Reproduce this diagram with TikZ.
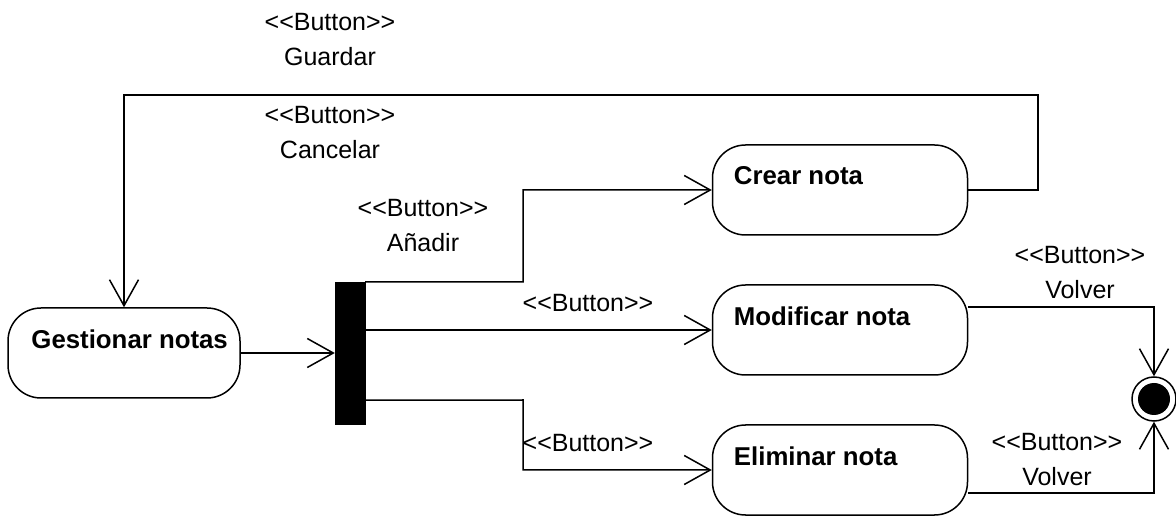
\documentclass[tikz,border=0pt]{standalone}
\usepackage{fontspec}
\setmainfont{Liberation Sans}
\usetikzlibrary{arrows.meta,calc}
\tikzset{
  state/.style={draw, rounded corners=33pt, line width=1.5pt, minimum height=90pt, inner sep=0pt},
  statetext/.style={anchor=west, inner sep=0pt, font=\fontsize{25.8}{30}\selectfont\bfseries},
  lbl/.style={align=center, inner sep=0pt, font=\fontsize{25}{35}\selectfont},
  conn/.style={line width=1.5pt},
  arr/.style={conn, -{Straight Barb[length=26pt,width=29pt,line width=1.5pt]}},
}
\begin{document}
\begin{tikzpicture}[x=1pt,y=-1pt]
\useasboundingbox (0,0) rectangle (1176,518);
% states
\node[state, minimum width=232pt] (gest) at (124,353) {};
\node[state, minimum width=255pt] (crear) at (840,190) {};
\node[state, minimum width=255pt] (modif) at (840,330) {};
\node[state, minimum width=255pt] (elim) at (840,470) {};
\node[statetext] (gestt) at ($(gest.north west)+(24,32)$) {Gestionar notas};
\node[statetext] (creart) at ($(crear.north west)+(22,31)$) {Crear nota};
\node[statetext] (modift) at ($(modif.north west)+(22,32)$) {Modificar nota};
\node[statetext] (elimt) at ($(elim.north west)+(22,32)$) {Eliminar nota};
% fork bar
\node[fill=black, draw=black, minimum width=30pt, minimum height=142pt, inner sep=0pt] (bar) at (350,353) {};
% final node
\node[circle, draw, line width=1.5pt, minimum size=44pt, inner sep=0pt] (final) at (1154,399) {};
\node[circle, fill=black, minimum size=32pt, inner sep=0pt] (finalin) at (final.center) {};
% connectors
\draw[arr] (gest.east) -- (bar.west |- gest.east);
\draw[arr] (bar.north east) -- (523,282) |- (crear.west);
\draw[arr] (bar.east |- modif.west) -- (modif.west);
\draw[arr] ($(bar.south east)+(0,-24)$) -- (523,400) |- (elim.west);
\draw[arr] (crear.east) -- (1038,190) -- (1038,95) -- (124,95) -- (gest.north);
\draw[arr] ($(modif.east)+(0,-23)$) -| (final.north);
\draw[arr] ($(elim.east)+(0,23)$) -| (final.south);
% labels
\node[lbl] (l1) at (330,39.5) {<{}<Button>{}>\\Guardar};
\node[lbl] (l2) at (330,132.5) {<{}<Button>{}>\\Cancelar};
\node[lbl] (l3) at (423,225.5) {<{}<Button>{}>\\Añadir};
\node[lbl] (l4) at (588,303) {<{}<Button>{}>};
\node[lbl] (l5) at (588,443) {<{}<Button>{}>};
\node[lbl] (l6) at (1080,272.5) {<{}<Button>{}>\\Volver};
\node[lbl] (l7) at (1057,460) {<{}<Button>{}>\\Volver};
\end{tikzpicture}
\end{document}
